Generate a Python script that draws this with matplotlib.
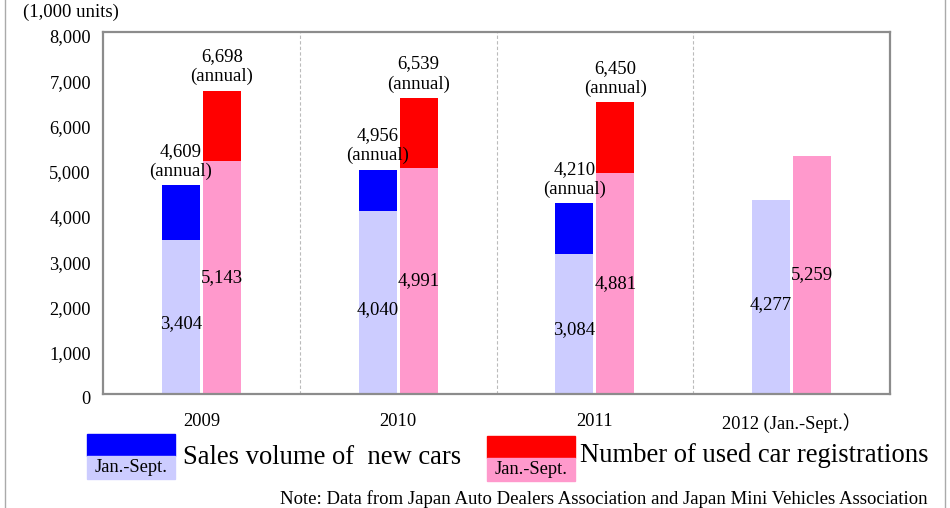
import matplotlib
matplotlib.use("Agg")
import matplotlib.pyplot as plt
import numpy as np
from matplotlib.transforms import ScaledTranslation
from matplotlib.patches import Rectangle

plt.rcParams['font.family'] = ['Liberation Serif', 'Noto Sans CJK JP', 'DejaVu Sans']

categories = ["2009", "2010", "2011", "2012 (Jan.-Sept.\uff09"]
new_jan_sept = [3404, 4040, 3084, 4277]
new_annual = [4609, 4956, 4210, None]
used_jan_sept = [5143, 4991, 4881, 5259]
used_annual = [6698, 6539, 6450, None]
y_ticks = [0, 1000, 2000, 3000, 4000, 5000, 6000, 7000, 8000]
y_tick_labels = ["0", "1,000", "2,000", "3,000", "4,000", "5,000", "6,000", "7,000", "8,000"]

c_blue, c_lav, c_red, c_pink = "#0000FF", "#CCCCFF", "#FF0000", "#FF99CC"

W, H = 950, 508
fig = plt.figure(figsize=(9.5, 5.08), dpi=100)
ax = fig.add_axes([103 / W, 1 - 394 / H, (890 - 103) / W, (394 - 32) / H])

x = np.arange(len(categories))
bw = 0.193
off = 0.104
fs_lab = 13.5

for i in range(len(categories)):
    xl = x[i] - off
    xr = x[i] + off
    ax.bar(xl, new_jan_sept[i], bw, color=c_lav, zorder=2)
    ax.bar(xr, used_jan_sept[i], bw, color=c_pink, zorder=2)
    if new_annual[i] is not None:
        ax.bar(xl, new_annual[i] - new_jan_sept[i], bw, bottom=new_jan_sept[i], color=c_blue, zorder=2)
        ax.annotate(f"{new_annual[i]:,}\n(annual)", (xl, new_annual[i]), xytext=(0, 4),
                    textcoords="offset points", ha="center", va="bottom",
                    fontsize=fs_lab, linespacing=1.2, zorder=3)
    if used_annual[i] is not None:
        ax.bar(xr, used_annual[i] - used_jan_sept[i], bw, bottom=used_jan_sept[i], color=c_red, zorder=2)
        ax.annotate(f"{used_annual[i]:,}\n(annual)", (xr, used_annual[i]), xytext=(0, 4),
                    textcoords="offset points", ha="center", va="bottom",
                    fontsize=fs_lab, linespacing=1.2, zorder=3)
    ax.text(xl, new_jan_sept[i] * 0.46, f"{new_jan_sept[i]:,}", ha="center", va="center", fontsize=fs_lab, zorder=3)
    ax.text(xr, used_jan_sept[i] * 0.5, f"{used_jan_sept[i]:,}", ha="center", va="center", fontsize=fs_lab, zorder=3)

ax.set_xlim(-0.5, len(categories) - 0.5)
ax.set_ylim(0, 8000)
for b in x[:-1] + 0.5:
    ax.axvline(b, color="#BBBBBB", lw=0.8, ls=(0, (3, 2)), zorder=1)

for s in ax.spines.values():
    s.set_color("#8C8C8C")
    s.set_linewidth(1.6)

ax.set_yticks([])
ax.set_xticks(x)
ax.set_xticklabels(categories, fontsize=13.3)
ax.tick_params(axis="x", length=0, pad=14)

ytr = ax.get_yaxis_transform() + ScaledTranslation(-12 / 100, -6 / 100, fig.dpi_scale_trans)
for v, lab in zip(y_ticks, y_tick_labels):
    ax.text(0, v, lab, transform=ytr, ha="right", va="center", fontsize=13.2)

fig.text(23 / W, 1 - 12 / H, "(1,000 units)", ha="left", va="center", fontsize=13.5)

# Legend (drawn manually)
def legend_box(x0, x1, ytop, ymid, ybot, ctop, cbot):
    fig.patches.append(Rectangle((x0 / W, 1 - ymid / H), (x1 - x0) / W, (ymid - ytop) / H,
                                 transform=fig.transFigure, color=ctop))
    fig.patches.append(Rectangle((x0 / W, 1 - ybot / H), (x1 - x0) / W, (ybot - ymid) / H,
                                 transform=fig.transFigure, color=cbot))
    fig.text((x0 + x1) / 2 / W, 1 - (ymid + ybot) / 2 / H, "Jan.-Sept.", ha="center", va="center", fontsize=13.3)

legend_box(87, 175, 434, 456, 479, c_blue, c_lav)
legend_box(487, 575, 436, 458, 481, c_red, c_pink)
fig.text(183 / W, 1 - 457 / H, "Sales volume of  new cars", ha="left", va="center", fontsize=19.2)
fig.text(580 / W, 1 - 455 / H, "Number of used car registrations", ha="left", va="center", fontsize=19.2)

fig.text(928 / W, 1 - 499 / H, "Note: Data from Japan Auto Dealers Association and Japan Mini Vehicles Association",
         ha="right", va="center", fontsize=13.5)

# outer frame lines
fig.add_artist(plt.Line2D([5 / W, 5 / W], [0, 1], transform=fig.transFigure, color="#AAAAAA", lw=1))
fig.add_artist(plt.Line2D([945 / W, 945 / W], [0, 1], transform=fig.transFigure, color="#AAAAAA", lw=1))

fig.savefig("out.png", dpi=100)
